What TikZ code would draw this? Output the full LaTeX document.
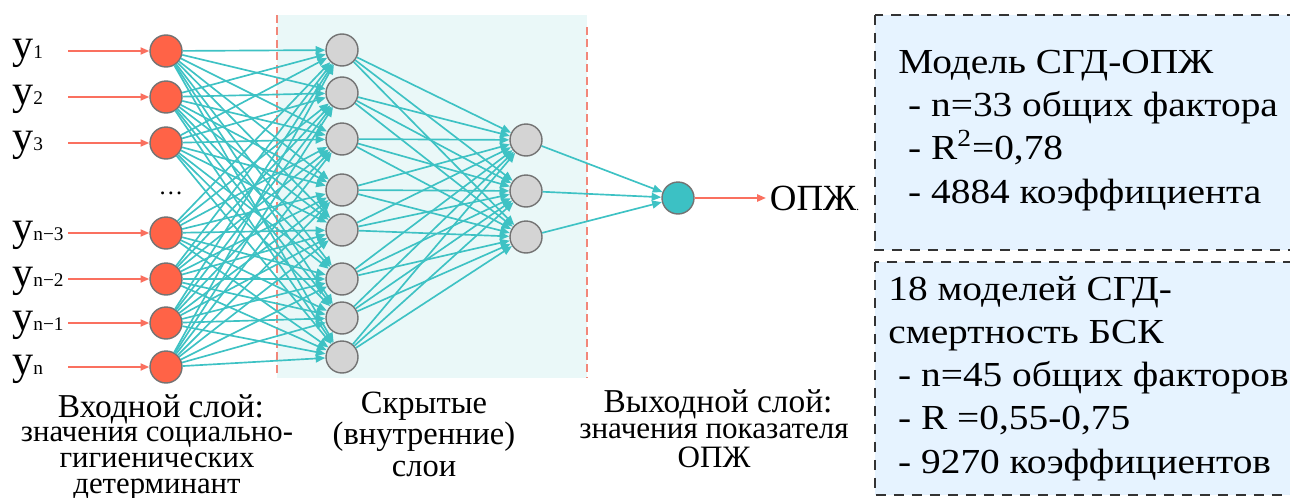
\documentclass[tikz,border=0pt]{standalone}
\usepackage{fontspec}
\setmainfont{Liberation Serif}
\newfontfamily\boxfont[FakeStretch=1.12]{Liberation Serif}
\usetikzlibrary{arrows.meta}

\definecolor{nodered}{RGB}{255,99,71}
\definecolor{nodegray}{RGB}{212,212,212}
\definecolor{nodeteal}{RGB}{60,193,196}
\definecolor{linkteal}{RGB}{62,194,196}
\definecolor{arrowred}{RGB}{250,112,95}
\definecolor{sepred}{RGB}{242,135,122}
\definecolor{hiddenbg}{RGB}{234,248,248}
\definecolor{boxblue}{RGB}{230,243,255}

\begin{document}
\begin{tikzpicture}[x=0.02cm, y=-0.02cm,
    neuron/.style={circle, draw=black!55, line width=0.8pt, minimum size=0.64cm, inner sep=0pt},
    inneuron/.style={neuron, fill=nodered},
    hidneuron/.style={neuron, fill=nodegray},
    outneuron/.style={neuron, fill=nodeteal},
    link/.style={linkteal, line width=0.95pt, -{Triangle[length=5.5pt, width=4.5pt]}},
    feed/.style={arrowred, line width=1.1pt, -{Triangle[length=5pt, width=4pt]}},
    layersep/.style={sepred, line width=0.8pt, dash pattern=on 0.16cm off 0.09cm},
    infobox/.style={fill=boxblue, draw=black!80, line width=1.1pt, dash pattern=on 0.2cm off 0.16cm},
    boxtext/.style={anchor=base west, align=left, inner sep=0pt, font=\boxfont\fontsize{20}{24.6}\selectfont},
    ylabel/.style={anchor=base west, inner sep=0pt, font=\fontsize{24}{24}\selectfont},
    layertitle/.style={anchor=base, inner sep=0pt, font=\fontsize{19}{20}\selectfont},
    layerdesc/.style={anchor=base, align=center, inner sep=0pt},
  ]
  \useasboundingbox (0,0) rectangle (1290,497);
  \clip (0,0) rectangle (1290,497);

  % Скрытые слои: фон и границы
  \fill[hiddenbg] (277,15) rectangle (587,378);
  \draw[layersep] (277,15) -- (277,377);
  \draw[layersep] (587,27) -- (587,377);

  % Входной слой
  \foreach \k/\y/\s in {1/51/1, 2/97/2, 3/143/3, 4/233/n−3, 5/279/n−2, 6/323/n−1, 7/367/n} {
    \node[inneuron] (i\k) at (166,\y) {};
    \node[ylabel] (y\k) at (12,\y+7) {y{\fontsize{11}{11}\selectfont\s}};
    \coordinate (s\k) at (68,\y);
    \draw[feed] (s\k) -- (i\k);
  }
  \node[font=\fontsize{14}{14}\selectfont, inner sep=0pt] (dots) at (171,193) {…};

  % Скрытые нейроны
  \foreach \k/\y in {1/50, 2/93, 3/139, 4/190, 5/230, 6/279, 7/318, 8/357}
    \node[hidneuron] (h\k) at (342,\y) {};
  \foreach \k/\y in {1/140, 2/191, 3/237}
    \node[hidneuron] (g\k) at (526,\y) {};

  % Выходной нейрон
  \node[outneuron] (o) at (678,198) {};
  \node[anchor=west, inner sep=2pt, font=\fontsize{21}{21}\selectfont] (opzh) at (766,198)
       {ОПЖ{\fontsize{7}{7}\selectfont .}};

  % Связи
  \foreach \a in {1,...,7}
    \foreach \b in {1,...,8}
      \draw[link] (i\a) -- (h\b);
  \foreach \a in {1,...,8}
    \foreach \b in {1,2,3}
      \draw[link] (h\a) -- (g\b);
  \foreach \a in {1,2,3}
    \draw[link] (g\a) -- (o);
  \draw[feed] (o) -- (opzh);

  % Модели
  \draw[infobox] (875,15) rectangle (1310,250);
  \draw[infobox] (875,262) rectangle (1310,495);
  \node[boxtext] (model1) at (898,203)
       {Модель СГД-ОПЖ\\\ - n=33 общих фактора\\\ - R\textsuperscript{2}=0,78\\\ - 4884 коэффициента};
  \node[boxtext] (model2) at (888,473)
       {18 моделей СГД-\\смертность БСК\\\ - n=45 общих факторов\\\ - R =0,55-0,75\\\ - 9270 коэффициентов};

  % Подписи слоёв
  \node[layertitle] (intitle) at (161,417) {Входной слой:};
  \node[layerdesc, font=\fontsize{17.5}{14.6}\selectfont] (indesc) at (157,493)
       {значения социально-\\гигиенических\\детерминант};
  \node[layerdesc, font=\fontsize{18.5}{17.9}\selectfont] (hidtitle) at (424,476)
       {Скрытые\\(внутренние)\\слои};
  \node[layertitle] (outtitle) at (718,412) {Выходной слой:};
  \node[layerdesc, font=\fontsize{17.7}{16.4}\selectfont] (outdesc) at (714,467)
       {значения показателя\\ОПЖ};
\end{tikzpicture}
\end{document}
